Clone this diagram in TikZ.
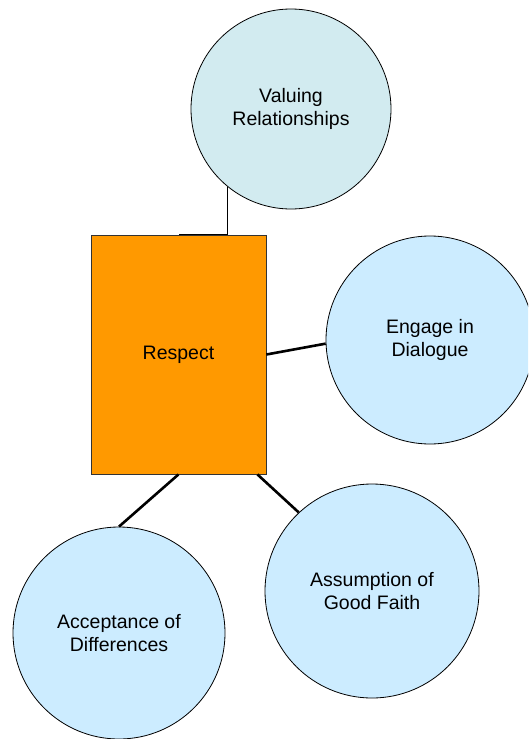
\documentclass[tikz,border=0pt]{standalone}
\usepackage{fontspec}
\setmainfont{Liberation Sans}
\definecolor{respectorange}{HTML}{FF9900}
\definecolor{topblue}{HTML}{D2EBF0}
\definecolor{ideablue}{HTML}{CCECFF}
\begin{document}
\begin{tikzpicture}[x=1pt,y=-1pt,
  idea/.style={circle,draw=black,line width=0.8pt,fill=ideablue,inner sep=0pt,
    align=center,font=\fontsize{19.5}{23}\selectfont},
  core/.style={rectangle,draw=black!80,line width=0.8pt,fill=respectorange,inner sep=0pt,
    minimum width=175pt,minimum height=239pt,font=\fontsize{19.5}{23}\selectfont},
  link/.style={line width=2.6pt,black},
  thinlink/.style={line width=1pt,black}]
\useasboundingbox (0,0) rectangle (528,739);
\clip (0,0) rectangle (528,739);

% central box
\node[core] (R) at (178.5,354.5) {Respect};

% surrounding ideas
\node[idea,fill=topblue,minimum size=200pt] (V) at (291,109) {Valuing\\Relationships};
\node[idea,minimum size=208pt] (E) at (430,340) {Engage in\\Dialogue};
\node[idea,minimum size=214pt] (B) at (372,591) {Assumption of\\Good Faith};
\node[idea,minimum size=212pt] (A) at (119,633) {Acceptance of\\Differences};

% connectors
\draw[thinlink] (V.231) |- (R.north);
\draw[link] (R.east) -- (E.182);
\draw[link] (R.south) -- (A.north);
\draw[link] ([xshift=-9pt]R.south east) -- (B.133);
\end{tikzpicture}
\end{document}
